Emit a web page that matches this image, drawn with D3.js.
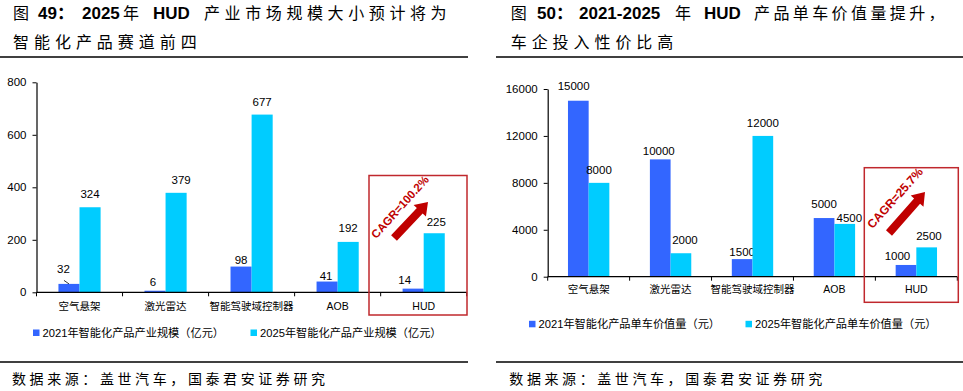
<!DOCTYPE html>
<html><head><meta charset="utf-8">
<script src="https://cdn.jsdelivr.net/npm/d3@7"></script>
<style>
html,body{margin:0;padding:0;background:#fff;}
svg{display:block;}
text{font-family:"Liberation Sans","Noto Sans CJK SC",sans-serif;}
</style></head>
<body>
<script>
// ---------- data ----------
const categories = ["空气悬架","激光雷达","智能驾驶域控制器","AOB","HUD"];
const marketSize2021 = [32,6,98,41,14];
const marketSize2025 = [324,379,677,192,225];
const marketTicks = [0,200,400,600,800];
const unitValue2021 = [15000,10000,1500,5000,1000];
const unitValue2025 = [8000,2000,12000,4500,2500];
const unitTicks = [0,4000,8000,12000,16000];
const marketSeries = ["2021年智能化产品产业规模（亿元）","2025年智能化产品产业规模（亿元）"];
const unitSeries = ["2021年智能化产品单车价值量（元）","2025年智能化产品单车价值量（元）"];
const marketCagr = "CAGR=100.2%";
const unitCagr = "CAGR=25.7%";
const title49 = [["图","cjk"],["49：","b"],["2025","b"],["年","cjk"],["HUD","b"],["产业市场规模大小预计将为","cjk"]];
const title49b = "智能化产品赛道前四";
const title50 = [["图","cjk"],["50：","b"],["2021-2025","b"],["年","cjk"],["HUD","b"],["产品单车价值量提升，","cjk"]];
const title50b = "车企投入性价比高";
const sourceText = "数据来源：盖世汽车，国泰君安证券研究";
const colors = ["#3366FF","#00CCFF"];
const red = "#C00000";

const svg = d3.select("body").append("svg").attr("width",963).attr("height",391);

function drawPanel(cfg){
  const g = svg.append("g");
  // titles: segments placed at their own x, CJK run spaced out
  cfg.title.forEach(([s,k],j)=>{
    g.append("text").attr("x",cfg.titleX[j]).attr("y",19)
      .attr("font-size", k==="b" ? 17 : 16)
      .attr("font-family", k==="b" ? "'Liberation Serif','Noto Sans CJK SC'" : "'Noto Sans CJK SC'")
      .attr("font-weight", k==="b" ? "bold" : "normal")
      .attr("letter-spacing", k==="b" ? 0 : cfg.t1ls)
      .text(s);
  });
  g.append("text").attr("x",cfg.titleX[0]).attr("y",48).attr("font-size",16)
    .attr("font-family","'Noto Sans CJK SC'").attr("letter-spacing",cfg.t2ls).text(cfg.title2);

  g.append("line").attr("x1",cfg.ruleX0).attr("x2",cfg.ruleX1).attr("y1",57).attr("y2",57)
    .attr("stroke","#000").attr("stroke-width",1.5);
  g.append("line").attr("x1",cfg.ruleX0).attr("x2",cfg.ruleX1).attr("y1",362).attr("y2",362)
    .attr("stroke","#000").attr("stroke-width",1.5);
  g.append("text").attr("x",cfg.sx).attr("y",384).attr("font-size",14)
    .attr("font-family","'Noto Sans CJK SC'")
    .attr("textLength",313).attr("lengthAdjust","spacing").text(sourceText);

  const x = d3.scaleBand().domain(categories).range([cfg.x0, cfg.x1]).padding(0);
  const bw = x.bandwidth();
  const xs = d3.scaleBand().domain([0,1]).range([bw*(1-cfg.groupFrac)/2, bw*(1+cfg.groupFrac)/2]).padding(0);
  const y = d3.scaleLinear().domain([0, d3.max(cfg.ticks)]).range([cfg.y0, cfg.y1]);

  // y axis
  const ya = g.append("g").attr("transform",`translate(${cfg.x0},0)`)
    .call(d3.axisLeft(y).tickValues(cfg.ticks).tickSize(4).tickSizeOuter(0).tickPadding(6).tickFormat(d3.format("d")));
  ya.select(".domain").attr("stroke","#000").attr("stroke-width",1.2);
  ya.selectAll(".tick line").attr("stroke","#000");
  ya.selectAll(".tick text").attr("font-size",11.5).attr("fill","#000")
    .attr("font-family","'Liberation Sans',sans-serif");

  // bars + labels
  const series = [cfg.s1, cfg.s2];
  series.forEach((vals,si)=>{
    g.selectAll(null).data(vals).enter().append("rect")
      .attr("x",(d,i)=>x(categories[i])+xs(si))
      .attr("width",xs.bandwidth())
      .attr("y",d=>y(d))
      .attr("height",d=>y(0)-y(d))
      .attr("fill",colors[si]);
    g.selectAll(null).data(vals).enter().append("text")
      .attr("x",(d,i)=>x(categories[i])+xs(si)+xs.bandwidth()/2+cfg.labelDx[si][i])
      .attr("y",(d,i)=>y(d)-cfg.labelDy[si][i])
      .attr("dy","0.35em")
      .attr("text-anchor","middle").attr("font-size",11.5).attr("fill","#000")
      .text(d=>d);
  });
  if (cfg.leader !== null) {
    const i = cfg.leader;
    const bx = x(categories[i])+xs(0)+xs.bandwidth()/2;
    g.append("line").attr("x1",bx-5).attr("y1",y(cfg.s1[i])-3.5).attr("x2",bx).attr("y2",y(cfg.s1[i]))
      .attr("stroke","#000").attr("stroke-width",0.8);
  }

  // x axis
  g.append("line").attr("x1",cfg.x0).attr("x2",cfg.x1).attr("y1",y(0)).attr("y2",y(0))
    .attr("stroke","#000").attr("stroke-width",1.2);
  const bounds = categories.map(c=>x(c)).concat([cfg.x1]);
  g.selectAll(null).data(bounds).enter().append("line")
    .attr("x1",d=>d).attr("x2",d=>d).attr("y1",y(0)).attr("y2",y(0)+4)
    .attr("stroke","#000");
  g.selectAll(null).data(categories).enter().append("text")
    .attr("x",c=>x(c)+bw/2).attr("y",y(0)+cfg.catOff)
    .attr("text-anchor","middle").attr("font-size",10.5).attr("fill","#000")
    .attr("font-family","'Noto Sans CJK SC'")
    .text(c=>c);

  // legend
  cfg.names.forEach((n,i)=>{
    g.append("rect").attr("x",cfg.legX[i]).attr("y",cfg.legY-3.5).attr("width",6.5).attr("height",6.5).attr("fill",colors[i]);
    g.append("text").attr("x",cfg.legX[i]+9.5).attr("y",cfg.legY+4).attr("font-size",11.2)
      .attr("fill","#000").attr("font-family","'Noto Sans CJK SC'").text(n);
  });

  // annotation box
  const b = cfg.box;
  g.append("rect").attr("x",b[0]).attr("y",b[1]).attr("width",b[2]-b[0]).attr("height",b[3]-b[1])
    .attr("fill","none").attr("stroke","#C0282D").attr("stroke-width",1.5);
  // arrow
  const [ax0,ay0,ax1,ay1] = cfg.arrow;
  const len = Math.hypot(ax1-ax0, ay1-ay0);
  const ang = Math.atan2(ay1-ay0, ax1-ax0)*180/Math.PI;
  const sw = 4, hw = 8.5, hl = 12;
  const pts = [[0,-sw],[len-hl,-sw],[len-hl,-hw],[len,0],[len-hl,hw],[len-hl,sw],[0,sw]];
  g.append("polygon").attr("points",pts.map(p=>p.join(",")).join(" "))
    .attr("transform",`translate(${ax0},${ay0}) rotate(${ang})`).attr("fill",red);
  g.append("text").attr("transform",`translate(${cfg.cagrPos[0]},${cfg.cagrPos[1]}) rotate(-48)`)
    .attr("text-anchor","middle").attr("dy","0.35em").attr("font-size",cfg.cagrSize).attr("font-weight","bold")
    .attr("fill",red).text(cfg.cagr);
}

drawPanel({
  title: title49, title2: title49b, titleX:[13,38,82,123,153,204], t1ls:4.6, t2ls:4.96,
  ruleX0:0, ruleX1:468, sx:12,
  x0:36.5, x1:466.7, y0:292.3, y1:82.3, ticks:marketTicks, groupFrac:0.49,
  s1:marketSize2021, s2:marketSize2025,
  labelDy:[[15,9,7,6,9],[13.7,13,13,14,11]], labelDx:[[-5.5,-2,0,-1,-8.5],[0,5,0,0,2]], leader:0,
  catOff:18,
  names:marketSeries, legX:[33,250.5], legY:333,
  box:[369,175.5,467,315], arrow:[394,238,428,202], cagrPos:[400,207], cagrSize:11.5, cagr:marketCagr
});
drawPanel({
  title: title50, title2: title50b, titleX:[510.7,537,579,675,704,754], t1ls:3.4, t2ls:4.94,
  ruleX0:496, ruleX1:963, sx:509.3,
  x0:547.7, x1:957.3, y0:276.7, y1:89, ticks:unitTicks, groupFrac:0.505,
  s1:unitValue2021, s2:unitValue2025,
  labelDy:[[14.7,8,6.7,13.7,9.3],[12.7,13,13.3,6.3,11]], labelDx:[[-4.7,-1.5,0,0,-8.5],[0,4,0,4.6,2.3]], leader:null,
  catOff:16,
  names:unitSeries, legX:[529,745.5], legY:324.3,
  box:[864.3,167.7,958.3,302.3], arrow:[889,233,925,192], cagrPos:[895,198], cagrSize:12, cagr:unitCagr
});
</script>
</body></html>
